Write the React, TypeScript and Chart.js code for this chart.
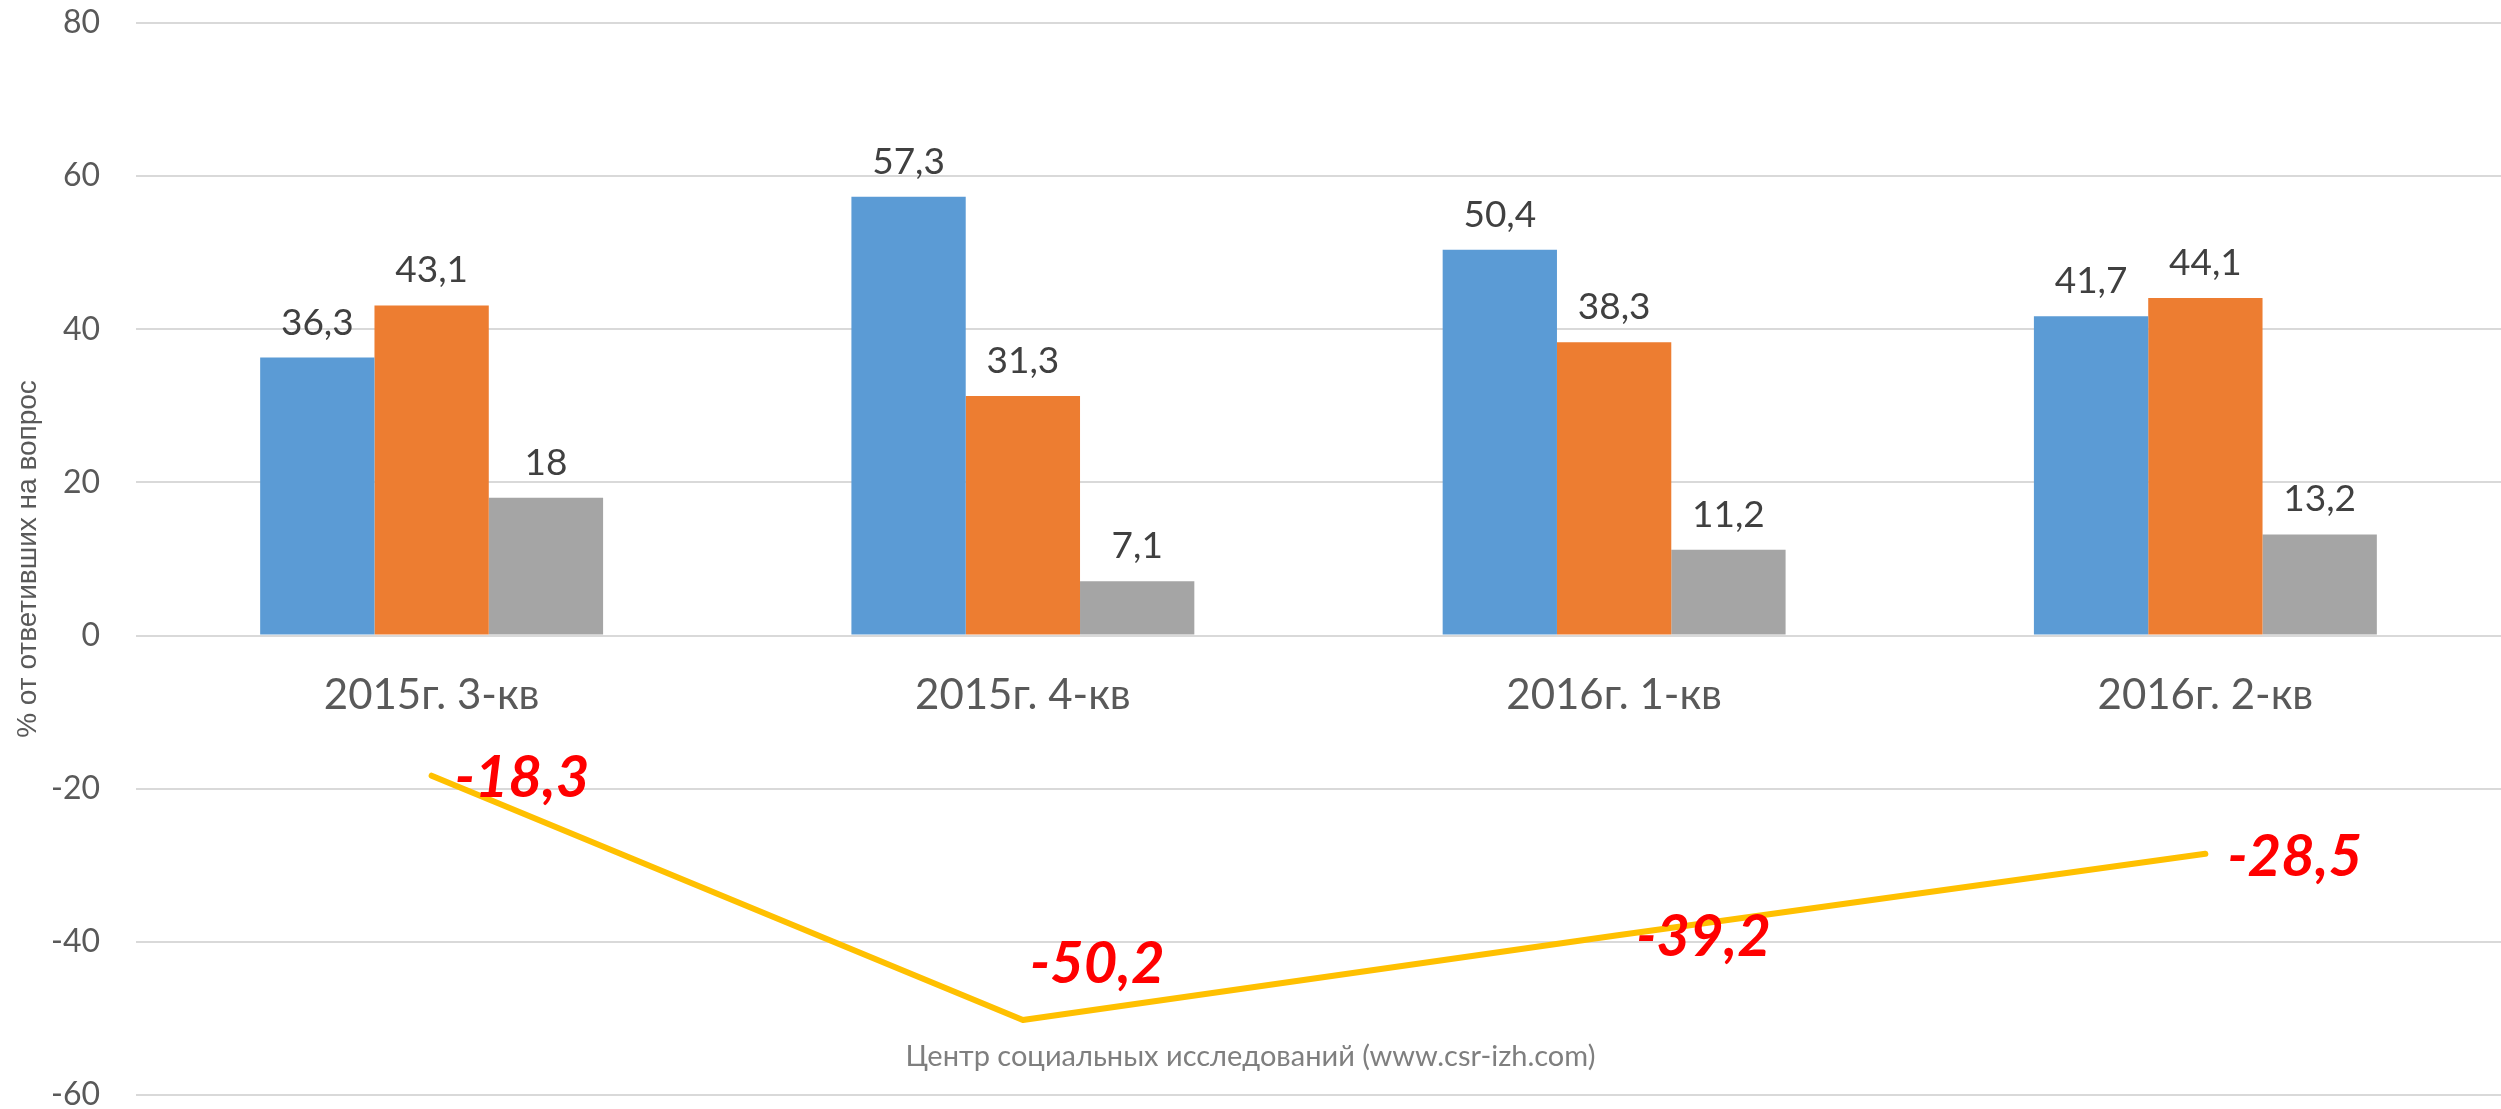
import React, { useEffect, useRef } from 'react';
import { Chart, registerables } from 'chart.js';

Chart.register(...registerables);

const categories = ['2015г. 3-кв', '2015г. 4-кв', '2016г. 1-кв', '2016г. 2-кв'];
const seriesBlue = [36.3, 57.3, 50.4, 41.7];
const seriesOrange = [43.1, 31.3, 38.3, 44.1];
const seriesGray = [18, 7.1, 11.2, 13.2];
const seriesBalance = [-18.3, -50.2, -39.2, -28.5];
const yTicks = [80, 60, 40, 20, 0, -20, -40, -60];
const yAxisTitle = '% от ответивших на вопрос';
const footnote = 'Центр социальных исследований (www.csr-izh.com)';

// label placement offsets (px) for the red line labels, relative to each point
const lineLabelOffsets: [number, number][] = [
  [23, 3],
  [7, -56],
  [22, 2],
  [22, 3],
];

const fmt = (v: number) => String(v).replace('.', ',');

const labelsPlugin = {
  id: 'valueLabels',
  afterDatasetsDraw(chart: any) {
    const ctx = chart.ctx;
    ctx.save();
    chart.data.datasets.forEach((ds: any, i: number) => {
      const meta = chart.getDatasetMeta(i);
      if (meta.hidden) return;
      meta.data.forEach((el: any, j: number) => {
        const v = ds.data[j] as number;
        if (meta.type === 'bar') {
          ctx.font = '37px Lato';
          ctx.fillStyle = '#404040';
          ctx.textAlign = 'center';
          ctx.textBaseline = 'middle';
          ctx.fillText(fmt(v), el.x, el.y - 35);
        } else {
          const off = lineLabelOffsets[j] || [20, 0];
          ctx.font = 'italic bold 58px Lato';
          ctx.fillStyle = '#FF0000';
          ctx.textAlign = 'left';
          ctx.textBaseline = 'middle';
          ctx.fillText(fmt(v), el.x + off[0], el.y + off[1]);
        }
      });
    });
    ctx.font = '29px Lato';
    ctx.fillStyle = '#7F7F7F';
    ctx.textAlign = 'center';
    ctx.textBaseline = 'middle';
    ctx.fillText(footnote, chart.width / 2, 1057);
    ctx.restore();
  },
};

export default function App() {
  const canvasRef = useRef<HTMLCanvasElement | null>(null);

  useEffect(() => {
    let chart: Chart | null = null;
    let cancelled = false;
    const make = () => {
      if (cancelled || !canvasRef.current) return;
      chart = new Chart(canvasRef.current, {
        type: 'bar',
        data: {
          labels: categories,
          datasets: [
            { label: 'Серия 1', data: seriesBlue, backgroundColor: '#5B9BD5', order: 1 },
            { label: 'Серия 2', data: seriesOrange, backgroundColor: '#ED7D31', order: 1 },
            { label: 'Серия 3', data: seriesGray, backgroundColor: '#A5A5A5', order: 1 },
            {
              type: 'line',
              label: 'Баланс',
              data: seriesBalance,
              borderColor: '#FFC000',
              backgroundColor: '#FFC000',
              borderWidth: 6,
              pointRadius: 0,
              borderCapStyle: 'round',
              borderJoinStyle: 'round',
              tension: 0,
              order: 0,
            } as any,
          ],
        },
        options: {
          animation: false,
          responsive: true,
          maintainAspectRatio: false,
          layout: { padding: { left: 0, right: 0, top: 23, bottom: 14 } },
          datasets: { bar: { categoryPercentage: 0.58, barPercentage: 1.0 } },
          plugins: { legend: { display: false }, tooltip: { enabled: false } },
          scales: {
            x: {
              position: { y: 0 } as any,
              grid: { display: false, drawTicks: false },
              border: { display: false },
              ticks: { font: { family: 'Lato', size: 42 }, color: '#595959', padding: 35, maxRotation: 0 },
              afterFit: (axis: any) => {
                axis.paddingLeft = 0;
                axis.paddingRight = 0;
                axis.paddingTop = 0;
                axis.paddingBottom = 0;
              },
            },
            y: {
              min: -60,
              max: 80,
              afterBuildTicks: (axis: any) => {
                axis.ticks = yTicks.map((v) => ({ value: v }));
              },
              afterFit: (axis: any) => {
                axis.width = 136;
                axis.paddingTop = 0;
                axis.paddingBottom = 0;
              },
              ticks: { font: { family: 'Lato', size: 32 }, color: '#595959', padding: 36 },
              grid: { color: '#D9D9D9', lineWidth: 2, drawTicks: false },
              border: { display: false },
              title: {
                display: true,
                text: yAxisTitle,
                font: { family: 'Liberation Sans', size: 28 },
                color: '#595959',
                padding: { top: 11, bottom: 8 },
              },
            },
          },
        },
        plugins: [labelsPlugin],
      });
    };
    const fonts = (document as any).fonts;
    if (fonts && fonts.load) {
      Promise.all([
        fonts.load('37px Lato'),
        fonts.load('italic bold 58px Lato'),
        fonts.load('28px "Liberation Sans"'),
      ]).then(make, make);
    } else {
      make();
    }
    return () => {
      cancelled = true;
      if (chart) chart.destroy();
    };
  }, []);

  return (
    <div style={{ position: 'fixed', left: 0, top: 0, width: 2501, height: 1109, background: '#fff' }}>
      <canvas ref={canvasRef} />
    </div>
  );
}
